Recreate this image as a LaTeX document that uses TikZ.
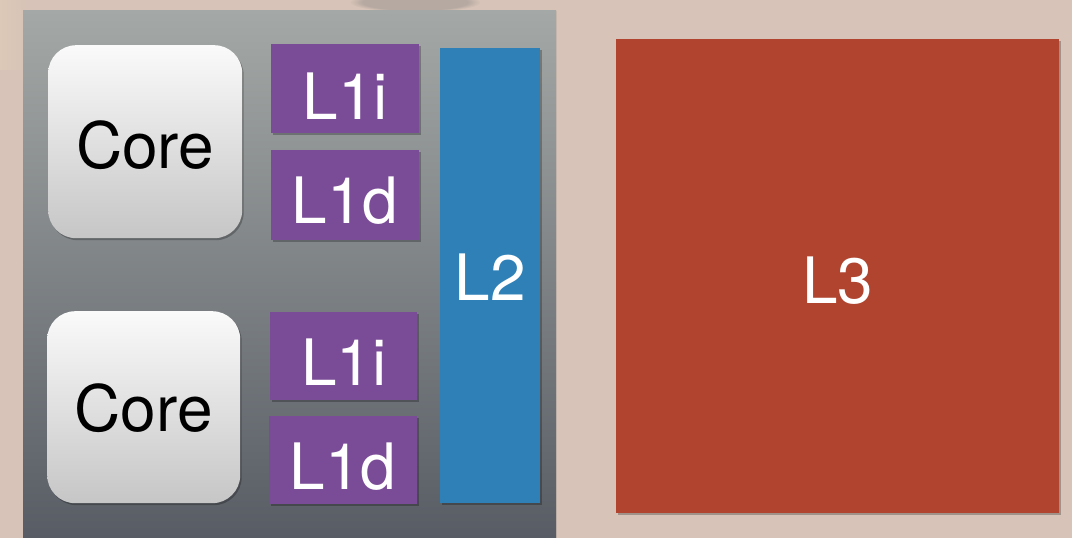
\documentclass[tikz,border=0pt]{standalone}
\usepackage{fontspec}
\setmainfont{TeX Gyre Heros}
\usetikzlibrary{shadows,calc,fadings}
\definecolor{bgbeige}{HTML}{D7C3B7}
\definecolor{bglight}{HTML}{E0CCB8}
\definecolor{chiptop}{HTML}{A4A8A6}
\definecolor{chipbot}{HTML}{585D65}
\definecolor{coretop}{HTML}{FAFAFA}
\definecolor{corebot}{HTML}{C6C6C6}
\definecolor{lonecol}{HTML}{7A4B96}
\definecolor{ltwocol}{HTML}{2E80B6}
\definecolor{lthreecol}{HTML}{B0442F}
\tikzset{
  box/.style={draw=none, inner sep=0pt, anchor=north west},
  shade/.style={drop shadow={shadow xshift=1.5pt, shadow yshift=-2pt, opacity=0.25, fill=black}},
  corebox/.style={box, rounded corners=28pt, top color=coretop, bottom color=corebot, shade},
  lonebox/.style={box, fill=lonecol, shade},
  ltwobox/.style={box, fill=ltwocol, shade},
  lthreebox/.style={box, fill=lthreecol, shade},
  darktext/.style={text=black, font=\fontsize{64}{64}\selectfont, inner sep=0pt},
  lighttext/.style={text=white, font=\fontsize{64}{64}\selectfont, inner sep=0pt},
}
\begin{document}
\begin{tikzpicture}[x=1pt,y=-1pt]
\useasboundingbox (0,0) rectangle (1072,538);
% background
\fill[bgbeige] (0,0) rectangle (1072,538);
\fill[bglight, path fading=east, opacity=0.7] (0,0) rectangle (30,70);
\fill[gray!55!bgbeige, path fading=circle with fuzzy edge 20 percent, opacity=0.7] (350,-8) rectangle (480,12);
% chip
\node[box, minimum width=533pt, minimum height=528pt, top color=chiptop, bottom color=chipbot,
      drop shadow={shadow xshift=1pt, shadow yshift=-1pt, opacity=0.15}] (chip) at (23,10) {};
% cores
\node[corebox, minimum width=194pt, minimum height=193pt] (core1) at (48,45) {};
\node[corebox, minimum width=193pt, minimum height=192pt] (core2) at (47,311) {};
\node[darktext] (core1t) at ($(core1.center)+(0,3)$) {Core};
\node[darktext] (core2t) at ($(core2.center)+(0,1)$) {Core};
% L1 caches
\node[lonebox, minimum width=148pt, minimum height=89pt] (l1i1) at (271,44) {};
\node[lonebox, minimum width=148pt, minimum height=90pt] (l1d1) at (271,150) {};
\node[lonebox, minimum width=147pt, minimum height=88pt] (l1i2) at (270,312) {};
\node[lonebox, minimum width=148pt, minimum height=88pt] (l1d2) at (269,416) {};
\node[lighttext] (l1i1t) at ($(l1i1.center)+(0,7)$) {L1i};
\node[lighttext] (l1d1t) at ($(l1d1.center)+(0,5)$) {L1d};
\node[lighttext] (l1i2t) at ($(l1i2.center)+(0,6)$) {L1i};
\node[lighttext] (l1d2t) at ($(l1d2.center)+(0,6)$) {L1d};
% L2
\node[ltwobox, minimum width=100pt, minimum height=455pt] (l2) at (440,48) {};
\node[lighttext] (l2t) at ($(l2.center)+(0,1)$) {L2};
% L3
\node[lthreebox, minimum width=443pt, minimum height=474pt] (l3) at (616,39) {};
\node[lighttext] (l3t) at ($(l3.center)+(0,4)$) {L3};
\end{tikzpicture}
\end{document}
